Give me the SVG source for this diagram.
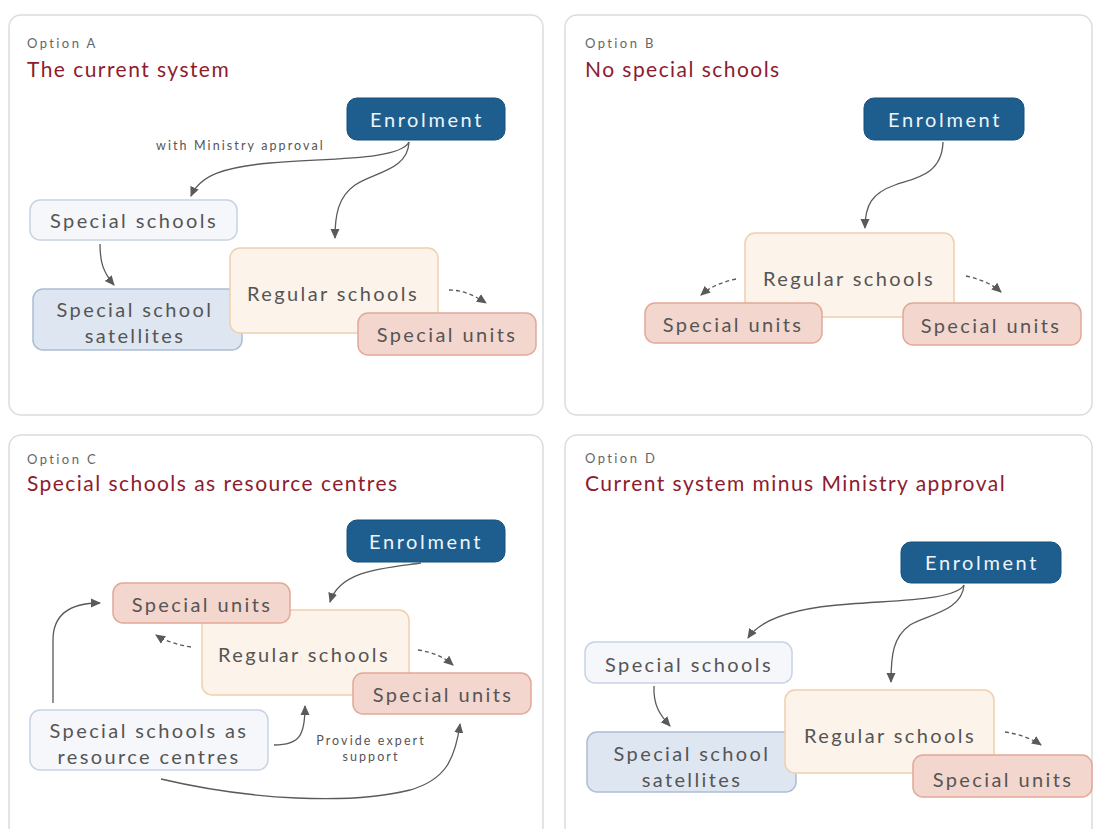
<svg xmlns="http://www.w3.org/2000/svg" width="1094" height="829" viewBox="0 0 1094 829">
<defs>
<marker id="ah" viewBox="0 0 10 10" refX="9" refY="5" markerWidth="10" markerHeight="10" markerUnits="userSpaceOnUse" orient="auto">
<path d="M0,0.5 L10,5 L0,9.5 Z" fill="#5a5a5a"/>
</marker>
<style>
.panel{fill:#fff;stroke:#dcdcdc;stroke-width:1.5}
.opt{font-family:Lato,"Open Sans",sans-serif;font-size:13px;fill:#666;letter-spacing:2.4px}
.ttl{font-family:Lato,"Open Sans",sans-serif;font-size:21px;fill:#8e1b2e;letter-spacing:1.45px}
.lbl{font-family:Lato,"Open Sans",sans-serif;font-size:20px;fill:#555;letter-spacing:2.4px;text-anchor:middle}
.enr{font-family:Lato,"Open Sans",sans-serif;font-size:20px;fill:#eef4fa;letter-spacing:2.6px;text-anchor:middle}
.small{font-family:Lato,"Open Sans",sans-serif;font-size:12.5px;fill:#555;letter-spacing:2.1px}
.blue{fill:#1d5e8e;stroke:#174f79;stroke-width:1}
.ss{fill:#f5f7fb;stroke:#c6d3e5;stroke-width:1.5}
.sat{fill:#dee6f1;stroke:#abbdd5;stroke-width:1.5}
.reg{fill:#fcf3ea;stroke:#f0cfae;stroke-width:1.5}
.su{fill:#f3d7ce;stroke:#e2a898;stroke-width:1.5}
.arr{fill:none;stroke:#5a5a5a;stroke-width:1.3;marker-end:url(#ah)}
.dash{fill:none;stroke:#5a5a5a;stroke-width:1.3;stroke-dasharray:4 3;marker-end:url(#ah)}
</style>
</defs>
<rect width="1094" height="829" fill="#fff"/>

<g id="panelA">
<rect class="panel" x="9" y="15" width="534" height="400" rx="12"/>
<text class="opt" x="27" y="48">Option A</text>
<text class="ttl" x="27" y="77">The current system</text>
</g>
<g id="panelB">
<rect class="panel" x="565" y="15" width="527" height="400" rx="12"/>
<text class="opt" x="585" y="48">Option B</text>
<text class="ttl" x="585" y="77">No special schools</text>
</g>
<g id="panelC">
<rect class="panel" x="9" y="435" width="534" height="420" rx="12"/>
<text class="opt" x="27" y="464">Option C</text>
<text class="ttl" x="27" y="491">Special schools as resource centres</text>
</g>
<g id="panelD">
<rect class="panel" x="565" y="435" width="527" height="420" rx="12"/>
<text class="opt" x="585" y="463">Option D</text>
<text class="ttl" x="585" y="491">Current system minus Ministry approval</text>
</g>

<!-- Panel A nodes -->
<g id="a-enrolment"><rect class="blue" x="347" y="98" width="158" height="42" rx="10"/><text class="enr" x="427" y="127">Enrolment</text></g>
<g id="a-special-schools"><rect class="ss" x="30" y="200" width="207" height="40" rx="10"/><text class="lbl" x="134" y="228">Special schools</text></g>
<g id="a-satellites"><rect class="sat" x="33" y="289" width="209" height="61" rx="10"/><text class="lbl" x="135" y="317">Special school</text><text class="lbl" x="135" y="343">satellites</text></g>
<g id="a-regular"><rect class="reg" x="230" y="248" width="208" height="85" rx="10"/><text class="lbl" x="333" y="301">Regular schools</text></g>
<g id="a-units"><rect class="su" x="358" y="313" width="178" height="42" rx="10"/><text class="lbl" x="447" y="342">Special units</text></g>
<text class="small" x="156" y="150">with Ministry approval</text>

<!-- Panel B nodes -->
<g id="b-enrolment"><rect class="blue" x="864" y="98" width="160" height="42" rx="10"/><text class="enr" x="945" y="127">Enrolment</text></g>
<g id="b-regular"><rect class="reg" x="745" y="233" width="209" height="84" rx="10"/><text class="lbl" x="849" y="286">Regular schools</text></g>
<g id="b-units-left"><rect class="su" x="645" y="303" width="177" height="40" rx="10"/><text class="lbl" x="733" y="332">Special units</text></g>
<g id="b-units-right"><rect class="su" x="903" y="303" width="178" height="42" rx="10"/><text class="lbl" x="991" y="333">Special units</text></g>

<!-- Panel C nodes -->
<g id="c-enrolment"><rect class="blue" x="347" y="520" width="158" height="42" rx="10"/><text class="enr" x="426" y="549">Enrolment</text></g>
<g id="c-regular"><rect class="reg" x="202" y="610" width="207" height="85" rx="10"/><text class="lbl" x="304" y="662">Regular schools</text></g>
<g id="c-units-left"><rect class="su" x="113" y="583" width="177" height="40" rx="10"/><text class="lbl" x="202" y="612">Special units</text></g>
<g id="c-units-right"><rect class="su" x="353" y="673" width="178" height="41" rx="10"/><text class="lbl" x="443" y="702">Special units</text></g>
<g id="c-resource"><rect class="ss" x="30" y="710" width="238" height="60" rx="10"/><text class="lbl" x="149" y="738">Special schools as</text><text class="lbl" x="149" y="764">resource centres</text></g>
<text class="small" x="371" y="745" text-anchor="middle">Provide expert</text>
<text class="small" x="371" y="761" text-anchor="middle">support</text>

<!-- Panel D nodes -->
<g id="d-enrolment"><rect class="blue" x="901" y="542" width="160" height="41" rx="10"/><text class="enr" x="982" y="570">Enrolment</text></g>
<g id="d-special-schools"><rect class="ss" x="585" y="642" width="207" height="41" rx="10"/><text class="lbl" x="689" y="672">Special schools</text></g>
<g id="d-satellites"><rect class="sat" x="587" y="732" width="209" height="60" rx="10"/><text class="lbl" x="692" y="761">Special school</text><text class="lbl" x="692" y="787">satellites</text></g>
<g id="d-regular"><rect class="reg" x="785" y="690" width="209" height="83" rx="10"/><text class="lbl" x="890" y="743">Regular schools</text></g>
<g id="d-units"><rect class="su" x="913" y="755" width="179" height="42" rx="10"/><text class="lbl" x="1003" y="787">Special units</text></g>

<g id="connectors">
<path class="arr" d="M409,142 C400,160 330,158 270,163 C225,167 200,175 191,196"/>
<path class="arr" d="M409,142 C408,170 375,172 355,185 C338,197 335,215 335,238"/>
<path class="arr" d="M100,244 C100,262 103,272 114,285"/>
<path class="dash" d="M449,290 C462,290 474,295 486,303"/>

<path class="arr" d="M943,142 C942,175 915,178 895,185 C872,193 865,205 865,228"/>
<path class="dash" d="M736,279 C722,282 710,287 701,295"/>
<path class="dash" d="M966,276 C980,279 992,284 1001,292"/>

<path class="arr" d="M421,563 C385,568 340,570 330,602"/>
<path class="dash" d="M191,647 C178,645 165,641 156,635"/>
<path class="dash" d="M418,650 C432,652 444,657 453,665"/>
<path class="arr" d="M53,703 L53,640 C53,615 70,603 100,603"/>
<path class="arr" d="M274,745 C300,745 305,735 305,706"/>
<path class="arr" d="M161,779 C250,800 350,805 410,790 C445,780 455,760 460,724"/>

<path class="arr" d="M964,585 C955,600 900,600 850,604 C790,608 760,620 748,638"/>
<path class="arr" d="M964,585 C962,612 925,615 910,625 C893,637 891,655 891,682"/>
<path class="arr" d="M654,686 C653,705 660,715 670,726"/>
<path class="dash" d="M1005,732 C1018,734 1031,738 1041,745"/>
</g>
</svg>
